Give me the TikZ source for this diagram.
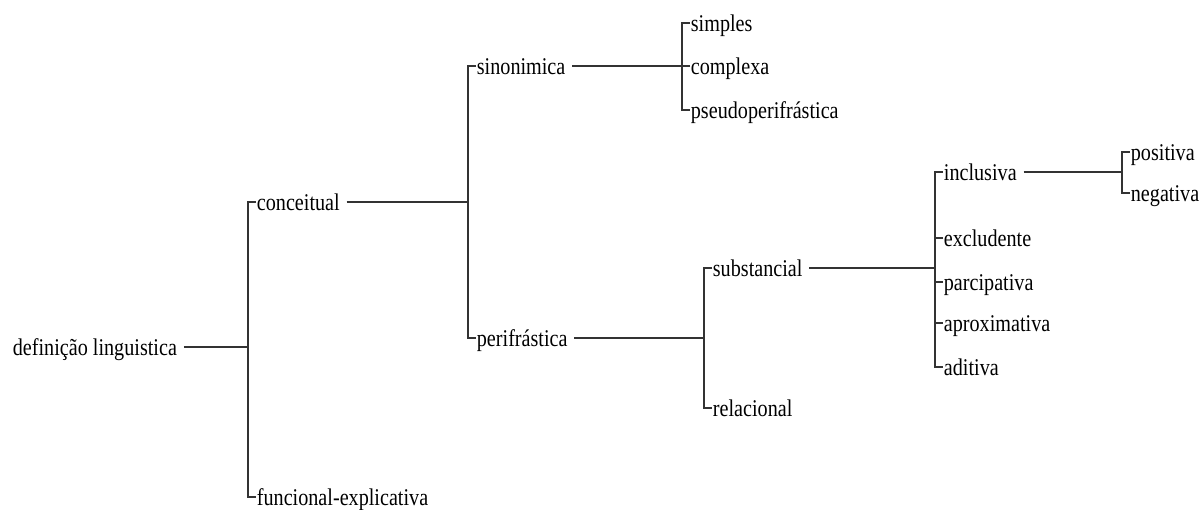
\documentclass[tikz,border=0pt]{standalone}
\usepackage{fontspec}
\setmainfont{Liberation Serif}[FakeStretch=0.84]

\begin{document}
\begin{tikzpicture}[x = 0.5pt, y = -0.5pt, % one unit = one pixel
                line width = 0.9pt, draw = black!80, % line style
                font = \fontsize{12}{14}\selectfont
            ]

            \tikzstyle{every node}=[anchor = west, inner sep = 0pt,
            text height = 8pt, text depth = 0pt]
            \tikzstyle{stem}=[shorten <= 3pt]

            \useasboundingbox (0,0) rectangle (1200,509);

            % bracket points
            \coordinate (b1) at (248,347); \coordinate (b2) at (468,202);
            \coordinate (b3) at (682,66); \coordinate (b4) at (704,338);
            \coordinate (b5) at (935,268); \coordinate (b6) at (1122,172);

            \node (def) at (12,347) {definição linguistica};
            \node (conc) at (256,202) {conceitual}; \node (func) at
                (256,497) {funcional-explicativa};
            \node (sino) at (476,66) {sinonimica}; \node (peri) at (476,338)
                {perifrástica};
            \node (simp) at (690,23) {simples}; \node (comp) at (690,66)
                {complexa}; \node (pseu) at (690,110) {pseudoperifrástica};
            \node (subs) at (712,268) {substancial}; \node (rela) at
                (712,408) {relacional};
            \node (incl) at (943,172) {inclusiva}; \node (excl) at (943,238)
                {excludente}; \node (parc) at (943,282) {parcipativa};
            \node (apro) at (943,323) {aproximativa}; \node (adit) at
                (943,367) {aditiva};
            \node (posi) at (1130,152) {positiva}; \node (nega) at (1130,193)
                {negativa};

            \draw[stem] (def.east) -- (b1); \draw (conc.west) -| (b1) |-
            (func.west);
            \draw[stem] (conc.east) -- (b2); \draw (sino.west) -| (b2) |-
            (peri.west);
            \draw[stem] (sino.east) -- (b3); \draw (simp.west) -| (b3) |-
            (pseu.west); \draw (comp.west) -- (b3);
            \draw[stem] (peri.east) -- (b4); \draw (subs.west) -| (b4) |-
            (rela.west);
            \draw[stem] (subs.east) -- (b5); \draw (incl.west) -| (b5) |-
            (adit.west);
            \draw (excl.west) -- (excl.west -| b5); \draw (parc.west) --
            (parc.west -| b5); \draw (apro.west) -- (apro.west -| b5);
            \draw[stem] (incl.east) -- (b6); \draw (posi.west) -| (b6) |-
            (nega.west);
        \end{tikzpicture}
\end{document}
